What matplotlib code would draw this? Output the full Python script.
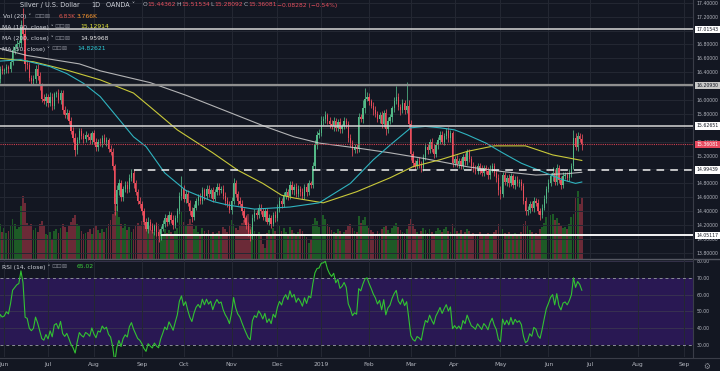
import numpy as np
import pandas as pd
import matplotlib
matplotlib.use("Agg")
import matplotlib.pyplot as plt
import matplotlib.transforms as mtransforms
from matplotlib.lines import Line2D
from matplotlib.ticker import FormatStrFormatter

# ---------------- data ----------------
start_date = "2018-05-29"
calendar_end = "2019-09-30"

# closes before the first visible bar (only for RSI warm-up)
pre_closes = [16.55, 16.62, 16.70, 16.68, 16.72, 16.60, 16.55, 16.62, 16.50, 16.45,
              16.30, 16.35, 16.28, 16.35, 16.40, 16.38, 16.45, 16.42, 16.38, 16.40]

closes = [
    16.30, 16.45, 16.42, 16.43, 16.47, 16.45, 16.55, 16.72, 16.76, 16.80,
    16.82, 17.05, 16.95, 16.52, 16.50, 16.32, 16.27, 16.30, 16.45, 16.35,
    16.20, 16.02, 15.98, 16.05, 15.95, 16.05, 15.92, 16.08, 16.10, 16.00,
    16.10, 15.85, 15.78, 15.82, 15.70, 15.55, 15.45, 15.28, 15.42, 15.55,
    15.48, 15.44, 15.50, 15.47, 15.42, 15.52, 15.40, 15.32, 15.40, 15.38,
    15.45, 15.40, 15.42, 15.30, 15.25, 15.05, 14.50, 14.70, 14.80, 14.60,
    14.72, 14.78, 14.72, 14.88, 14.95, 14.80, 14.68, 14.55, 14.50, 14.40,
    14.25, 14.15, 14.25, 14.18, 14.12, 14.18, 14.10, 14.05, 14.15, 14.22,
    14.30, 14.25, 14.35, 14.28, 14.20, 14.30, 14.40, 14.62, 14.72, 14.58,
    14.65, 14.52, 14.40, 14.32, 14.45, 14.55, 14.60, 14.55, 14.70, 14.62,
    14.72, 14.65, 14.70, 14.58, 14.68, 14.75, 14.70, 14.72, 14.62, 14.55,
    14.50, 14.42, 14.55, 14.80, 14.65, 14.55, 14.50, 14.40, 14.30, 14.20,
    14.10, 14.05, 14.30, 14.38, 14.35, 14.45, 14.40, 14.32, 14.40, 14.25,
    14.30, 14.22, 14.35, 14.30, 14.45, 14.55, 14.50, 14.62, 14.68, 14.62,
    14.78, 14.70, 14.75, 14.65, 14.72, 14.68, 14.62, 14.75, 14.68, 14.80,
    14.78, 15.05, 15.35, 15.50, 15.52, 15.70, 15.72, 15.78, 15.70, 15.65,
    15.62, 15.70, 15.60, 15.68, 15.58, 15.62, 15.70, 15.65, 15.45, 15.38,
    15.28, 15.32, 15.30, 15.75, 15.72, 15.88, 16.02, 16.05, 15.98, 15.92,
    15.85, 15.80, 15.72, 15.78, 15.65, 15.82, 15.58, 15.70, 15.75, 15.88,
    15.98, 16.05, 15.90, 15.85, 15.95, 15.85, 15.92, 15.65, 15.22, 15.10,
    15.05, 15.12, 15.08, 15.02, 15.18, 15.32, 15.28, 15.40, 15.30, 15.22,
    15.35, 15.42, 15.50, 15.40, 15.48, 15.55, 15.45, 15.52, 15.10, 15.15,
    15.08, 15.12, 15.05, 15.18, 15.12, 15.25, 15.15, 15.05, 15.02, 14.98,
    15.05, 15.00, 14.95, 15.02, 14.98, 14.92, 15.00, 15.05, 14.95, 14.88,
    14.70, 14.65, 14.92, 14.82, 14.88, 14.80, 14.90, 14.78, 14.85, 14.80,
    14.82, 14.76, 14.55, 14.40, 14.42, 14.50, 14.45, 14.55, 14.52, 14.40,
    14.35, 14.45, 14.58, 14.72, 14.80, 14.90, 14.95, 14.82, 15.02, 14.85,
    14.78, 14.90, 14.92, 14.88, 14.95, 15.05, 15.45, 15.32, 15.48, 15.44,
    15.36,
]

# upper / lower wick lengths in cents
wick_up = [
    6, 4, 5, 3, 5, 4, 6, 5, 4, 6,
    5, 10, 28, 8, 6, 5, 4, 6, 5, 7,
    5, 4, 6, 5, 4, 6, 5, 4, 3, 6,
    5, 4, 6, 5, 4, 5, 6, 8, 5, 4,
    5, 4, 6, 3, 5, 4, 5, 6, 4, 5,
    4, 6, 5, 4, 5, 6, 3, 8, 6, 5,
    4, 6, 5, 5, 6, 4, 5, 4, 6, 5,
    4, 5, 6, 4, 5, 4, 6, 5, 4, 5,
    6, 4, 5, 4, 6, 5, 4, 6, 18, 5,
    6, 5, 4, 6, 5, 4, 5, 6, 5, 4,
    6, 5, 4, 5, 4, 6, 5, 4, 5, 6,
    5, 4, 6, 8, 5, 4, 5, 6, 4, 5,
    4, 5, 6, 5, 4, 5, 6, 4, 5, 4,
    6, 5, 4, 5, 6, 5, 4, 6, 5, 4,
    6, 5, 4, 5, 6, 4, 5, 4, 6, 5,
    4, 6, 8, 5, 6, 7, 5, 6, 4, 5,
    6, 5, 4, 5, 6, 4, 5, 4, 5, 6,
    4, 5, 4, 6, 5, 12, 15, 6, 5, 4,
    5, 6, 4, 5, 6, 4, 5, 6, 5, 4,
    6, 15, 5, 4, 6, 5, 34, 8, 6, 5,
    4, 5, 6, 4, 5, 6, 5, 4, 5, 6,
    4, 5, 6, 5, 4, 5, 6, 5, 4, 5,
    6, 4, 5, 4, 6, 5, 4, 5, 6, 4,
    5, 4, 6, 5, 4, 5, 6, 4, 5, 4,
    5, 6, 4, 5, 4, 6, 5, 4, 5, 6,
    4, 5, 4, 6, 5, 4, 5, 6, 4, 5,
    4, 6, 5, 4, 6, 5, 8, 5, 6, 4,
    5, 6, 5, 4, 6, 5, 12, 8, 6, 5,
    7,
]
wick_dn = [
    5, 6, 4, 5, 4, 6, 5, 4, 6, 5,
    4, 6, 8, 10, 6, 5, 6, 4, 5, 6,
    6, 5, 4, 6, 5, 4, 6, 5, 4, 5,
    6, 5, 4, 6, 5, 4, 6, 8, 5, 4,
    4, 6, 5, 4, 6, 5, 4, 5, 6, 4,
    5, 4, 6, 5, 4, 6, 15, 10, 6, 5,
    5, 4, 6, 5, 4, 6, 5, 4, 5, 6,
    5, 4, 6, 5, 4, 6, 5, 10, 6, 4,
    5, 6, 4, 5, 6, 4, 5, 4, 6, 5,
    6, 4, 6, 8, 5, 4, 6, 5, 4, 6,
    5, 4, 6, 5, 4, 5, 6, 4, 5, 6,
    4, 5, 6, 4, 5, 6, 4, 5, 6, 5,
    6, 8, 5, 4, 6, 5, 4, 5, 6, 4,
    5, 6, 4, 5, 4, 6, 5, 4, 5, 6,
    4, 5, 6, 4, 5, 6, 4, 5, 6, 5,
    4, 5, 4, 6, 5, 4, 6, 5, 4, 5,
    4, 6, 5, 4, 5, 6, 4, 5, 6, 5,
    8, 4, 6, 5, 4, 5, 6, 4, 5, 4,
    6, 5, 4, 5, 6, 4, 8, 5, 4, 6,
    5, 4, 5, 6, 4, 5, 4, 6, 8, 6,
    5, 4, 6, 5, 4, 5, 6, 4, 5, 6,
    4, 5, 6, 4, 5, 4, 6, 5, 6, 5,
    4, 6, 5, 4, 5, 6, 4, 5, 6, 4,
    5, 6, 4, 5, 4, 6, 5, 4, 5, 6,
    6, 8, 5, 4, 6, 5, 4, 5, 6, 4,
    5, 6, 4, 6, 5, 4, 5, 6, 5, 4,
    8, 5, 4, 6, 5, 4, 6, 5, 4, 5,
    6, 5, 4, 5, 4, 6, 5, 4, 6, 5,
    8,
]

# volume in thousands
volume_k = [
    3.2, 3.8, 3.0, 3.4, 2.9, 3.1, 3.6, 4.4, 3.9, 3.3,
    3.5, 5.8, 6.9, 6.2, 4.0, 3.6, 3.9, 3.2, 3.4, 3.0,
    3.8, 4.2, 3.6, 2.8, 2.6, 3.0, 2.2, 3.1, 3.3, 2.9,
    3.4, 3.8, 3.5, 3.0, 3.6, 4.1, 4.5, 4.8, 3.9, 3.6,
    3.1, 2.7, 2.9, 3.0, 3.3, 2.8, 3.4, 3.7, 3.2, 2.9,
    3.3, 3.0, 3.4, 3.8, 4.3, 5.0, 7.2, 5.8, 4.6, 3.8,
    3.4, 3.9, 3.2, 3.5, 3.0, 3.3, 3.6, 4.0, 3.7, 4.2,
    4.6, 3.9, 3.4, 3.6, 3.2, 3.0, 3.5, 3.9, 3.1, 2.8,
    3.3, 2.9, 3.2, 3.0, 2.7, 3.1, 3.4, 4.8, 5.2, 4.1,
    3.6, 3.9, 4.4, 3.9, 3.3, 3.6, 3.0, 2.8, 3.4, 3.1,
    2.9, 3.2, 2.7, 3.0, 2.6, 2.9, 3.1, 2.8, 3.5, 3.3,
    3.0, 3.6, 4.3, 3.8, 3.4, 3.2, 3.7, 4.0, 4.3, 4.6,
    5.0, 3.9, 3.5, 3.1, 2.8, 3.0, 2.5, 1.6, 1.2, 2.9,
    3.2, 2.8, 3.4, 3.1, 3.3, 3.6, 3.1, 3.4, 3.0, 2.8,
    3.5, 3.2, 2.9, 2.7, 3.0, 3.3, 3.1, 2.6, 2.4, 1.8,
    2.2, 3.9, 4.5, 4.2, 3.5, 2.6, 4.8, 4.4, 3.8, 3.5,
    3.2, 3.0, 2.9, 3.3, 3.1, 2.8, 3.0, 3.2, 3.6, 3.8,
    3.4, 3.1, 3.0, 4.7, 4.0, 4.3, 4.6, 3.7, 3.4, 3.2,
    3.0, 2.8, 3.1, 2.9, 3.3, 3.5, 3.6, 3.2, 2.9, 3.4,
    3.7, 4.0, 3.5, 3.2, 3.0, 2.9, 3.3, 3.8, 4.4, 3.9,
    3.3, 3.0, 2.8, 3.1, 3.4, 3.2, 2.9, 3.3, 3.0, 2.8,
    3.1, 3.4, 3.2, 3.0, 3.3, 3.5, 3.1, 3.0, 3.9, 3.4,
    3.1, 2.9, 3.2, 2.8, 3.0, 3.3, 3.1, 2.7, 2.9, 2.6,
    2.8, 3.0, 2.7, 2.5, 2.8, 2.9, 2.6, 2.8, 3.0, 3.2,
    3.8, 3.5, 3.3, 2.9, 2.7, 3.0, 2.8, 2.6, 2.9, 2.7,
    2.8, 3.0, 3.9, 4.2, 3.6, 3.2, 3.0, 2.8, 2.9, 2.6,
    3.3, 3.5, 4.0, 4.6, 4.2, 4.8, 5.0, 4.3, 4.5, 4.0,
    3.6, 3.4, 3.5, 3.3, 3.9, 4.6, 5.0, 6.8, 7.5, 6.0,
    6.83,
]

# moving averages sampled at bar indices
ma200_idx = [1, 14, 39, 49, 73, 90, 112, 128, 142, 154, 172, 188, 204, 225, 242, 258, 273, 280]
ma200_val = [16.74, 16.64, 16.52, 16.42, 16.25, 16.07, 15.81, 15.62, 15.47, 15.38, 15.31,
             15.24, 15.16, 15.04, 14.97, 14.92, 14.94, 14.96]
ma100_idx = [1, 17, 33, 49, 65, 73, 86, 103, 115, 127, 136, 142, 156, 172, 188, 199, 212,
             225, 238, 253, 266, 280]
ma100_val = [16.60, 16.55, 16.43, 16.29, 16.10, 15.90, 15.57, 15.24, 14.99, 14.80, 14.63,
             14.59, 14.52, 14.68, 14.88, 15.04, 15.14, 15.26, 15.34, 15.34, 15.21, 15.13]
ma50_idx = [1, 11, 25, 33, 41, 49, 57, 65, 71, 80, 90, 103, 110, 123, 140, 154, 169, 180,
            188, 198, 205, 212, 219, 225, 234, 242, 251, 261, 271, 277, 280]
ma50_val = [16.56, 16.58, 16.48, 16.38, 16.24, 16.05, 15.76, 15.47, 15.33, 14.95, 14.70,
            14.54, 14.49, 14.43, 14.46, 14.52, 14.80, 15.14, 15.35, 15.60, 15.62, 15.60,
            15.57, 15.50, 15.38, 15.24, 15.09, 14.97, 14.85, 14.80, 14.82]

# horizontal levels (value, start bar index or None for full width)
level_vals = [17.01543, 16.20930, 15.62651, 14.99439, 14.05117]
level_start = [None, None, None, 65, 78]
last_price = 15.36081
price_ticks = [17.4, 17.2, 16.8, 16.6, 16.4, 16.0, 15.8, 15.4, 15.2, 14.8, 14.6, 14.4,
               14.2, 14.0, 13.8]
rsi_ticks = [30, 40, 50, 60, 70, 80]

ohlc_names = ["O", "H", "L", "C"]
ohlc_texts = ["15.44362", "15.51534", "15.28092", "15.36081"]
change_text = "\u22120.08282 (\u22120.54%)"
vol_texts = ["6.83K", "3.766K"]
ma_texts = ["15.12914", "14.95968", "14.82621"]
rsi_text = "65.02"

# ---------------- styling ----------------
BG = "#131722"
GRID = "#242833"
TXT = "#b2b5be"
UP, DN = "#53b987", "#eb4d5c"
VUP, VDN = "#1d5a26", "#6b2a37"
YEL, WHT, CYA = "#c9c93a", "#cfcfcf", "#2fb3bf"
PURPLE = "#291853"
RSI_C = "#32c232"

W, H = 720, 371
plt.rcParams["font.family"] = ["DejaVu Sans"]

n = len(closes)
assert len(wick_up) == n and len(wick_dn) == n and len(volume_k) == n
c = np.array(closes)
o = np.r_[pre_closes[-1], c[:-1]]
hi = np.maximum(o, c) + np.array(wick_up) / 100.0
lo = np.minimum(o, c) - np.array(wick_dn) / 100.0
x = np.arange(n)
up = c >= o

dates = pd.bdate_range(start_date, calendar_end)
per = dates.to_period("M")
tick_pos = [i for i in range(1, len(dates)) if per[i] != per[i - 1]]
tick_lab = [str(dates[i].year) if dates[i].month == 1 else dates[i].strftime("%b") for i in tick_pos]

# Wilder RSI(14)
allc = np.r_[pre_closes, c]
dlt = np.diff(allc)
gains = np.clip(dlt, 0, None)
losses = np.clip(-dlt, 0, None)
P = 14
ag = np.full(len(dlt), np.nan)
al = np.full(len(dlt), np.nan)
ag[P - 1] = gains[:P].mean()
al[P - 1] = losses[:P].mean()
for i in range(P, len(dlt)):
    ag[i] = (ag[i - 1] * (P - 1) + gains[i]) / P
    al[i] = (al[i - 1] * (P - 1) + losses[i]) / P
rsi_all = 100 - 100 / (1 + ag / al)
rsi = rsi_all[-n:]

XL = (0.96, 333.33)
YL = (13.712, 17.439)

fig = plt.figure(figsize=(W / 100, H / 100), dpi=100, facecolor=BG)
axp = fig.add_axes([0, 1 - 259 / H, 693 / W, 259 / H])
axv = axp.twinx()
axr = fig.add_axes([0, 14 / H, 693 / W, 98 / H], facecolor=BG)
axp.set_zorder(2)
axv.set_zorder(1)
axp.patch.set_visible(False)

# volume
axv.bar(x, volume_k, width=0.85, color=np.where(up, VUP, VDN), linewidth=0)
axv.set_ylim(0, 28.5)
axv.set_axis_off()

# grid
for a in (axp, axr):
    for s in a.spines.values():
        s.set_visible(False)
    a.set_xlim(*XL)
    a.set_xticks(tick_pos)
    a.grid(True, axis="x", color=GRID, lw=0.7)
axp.set_ylim(*YL)
for yv in np.arange(13.8, 17.41, 0.2):
    axp.axhline(yv, color=GRID, lw=0.7, zorder=0)
axp.set_yticks(price_ticks)
axp.yaxis.tick_right()
axp.yaxis.set_major_formatter(FormatStrFormatter("%.5f"))
axp.tick_params(axis="y", length=0, pad=2.5, labelsize=3.3, labelcolor=TXT)
axp.tick_params(axis="x", length=0, labelbottom=False)

# candles
axp.vlines(x, lo, hi, colors=np.where(up, UP, DN), lw=0.55, zorder=3)
axp.bar(x, np.maximum(np.abs(c - o), 0.006), bottom=np.minimum(o, c), width=0.62,
        color=np.where(up, UP, DN), linewidth=0, zorder=4)

# moving averages
axp.plot(ma200_idx, ma200_val, color=WHT, lw=0.8, alpha=0.85, zorder=5)
axp.plot(ma100_idx, ma100_val, color=YEL, lw=0.8, zorder=5)
axp.plot(ma50_idx, ma50_val, color=CYA, lw=0.8, zorder=5)

# levels
lvl_styles = [dict(color="#d6d6d6", lw=1.1, ls="-"),
              dict(color="#8f8f8f", lw=1.6, ls="-"),
              dict(color="#d6d6d6", lw=1.1, ls="-"),
              dict(color="#f0f0f0", lw=1.1, ls=(0, (5, 4))),
              dict(color="#f4f4f4", lw=1.4, ls="-")]
box_fc = ["#ffffff", "#c8c8c8", "#ffffff", "#ffffff", "#ffffff"]
trans = mtransforms.blended_transform_factory(axp.transAxes, axp.transData)
for v, s0, st, fc in zip(level_vals, level_start, lvl_styles, box_fc):
    x0 = XL[0] if s0 is None else s0
    axp.hlines(v, x0, XL[1], zorder=6, **st)
    axp.text(1.005, v, f"{v:.5f}", transform=trans, ha="left", va="center", fontsize=3.3,
             color="#131722", clip_on=False, zorder=10,
             bbox=dict(boxstyle="square,pad=0.3", fc=fc, ec="none"))
axp.axhline(last_price, color="#d0404f", lw=0.8, ls=(0, (1, 1)), zorder=6)
axp.text(1.005, last_price, f"{last_price:.5f}", transform=trans, ha="left", va="center",
         fontsize=3.3, color="white", clip_on=False, zorder=10,
         bbox=dict(boxstyle="square,pad=0.3", fc="#e84a5f", ec="none"))

# RSI pane
axr.axhspan(30, 70, color=PURPLE, lw=0, zorder=0)
axr.set_ylim(23.1, 81.0)
axr.set_yticks(rsi_ticks)
axr.yaxis.tick_right()
axr.yaxis.set_major_formatter(FormatStrFormatter("%.2f"))
for yv in (40, 50, 60, 80):
    axr.axhline(yv, color="#3a3550", lw=0.6, zorder=1)
for yv in (30, 70):
    axr.axhline(yv, color="#8a8d96", lw=0.7, ls=(0, (3, 3)), zorder=2)
axr.plot(x, rsi, color=RSI_C, lw=0.8, zorder=3)
axr.tick_params(axis="y", length=0, pad=2.5, labelsize=3.3, labelcolor=TXT)
axr.tick_params(axis="x", length=0, pad=3.5, labelsize=4.3, labelcolor=TXT)
axr.set_xticklabels(tick_lab)

# separators
fig.add_artist(Line2D([0, 1], [1 - 259 / H] * 2, transform=fig.transFigure, color="#555862", lw=1.0))
fig.add_artist(Line2D([0, 1], [1 - 358 / H] * 2, transform=fig.transFigure, color="#3a3d48", lw=0.8))
fig.add_artist(Line2D([693 / W] * 2, [1 - 358 / H, 1], transform=fig.transFigure, color="#3a3d48", lw=0.8))

# legend texts
def ft(px, py, s, **kw):
    kw.setdefault("fontsize", 4.3)
    fig.text(px / W, 1 - py / H, s, ha="left", va="center", zorder=20, **kw)

ICON = "\u22a1\u22a1\u22a0"
ft(20, 5, "Silver / U.S. Dollar", color="#d1d4dc", fontsize=4.7)
ft(91, 5, "1D", color="#d1d4dc", fontsize=4.7)
ft(106, 5, "OANDA \u02c5", color="#d1d4dc", fontsize=4.7)
for i, (nm, tx) in enumerate(zip(ohlc_names, ohlc_texts)):
    ft(143 + 33.5 * i, 5, nm, color=TXT)
    ft(147.5 + 33.5 * i, 5, tx, color="#e8505f")
ft(277, 5, change_text, color="#e8505f")

ft(3, 16, "Vol (20) \u02c5", color="#d1d4dc")
ft(34, 16, ICON, color="#787b86", fontsize=4.6)
ft(59, 16, vol_texts[0], color="#e2584f")
ft(77, 16, vol_texts[1], color="#ff9a2e")

ft(2, 27, "MA (100, close) \u02c5", color="#d1d4dc")
ft(54, 27, ICON, color="#787b86", fontsize=4.6)
ft(80, 27, ma_texts[0], color="#e8e83a")
ft(2, 38, "MA (200, close) \u02c5", color="#d1d4dc")
ft(54, 38, ICON, color="#787b86", fontsize=4.6)
ft(80, 38, ma_texts[1], color="#e6e6e6")
ft(2, 49, "MA (50, close) \u02c5", color="#d1d4dc")
ft(51, 49, ICON, color="#787b86", fontsize=4.6)
ft(77, 49, ma_texts[2], color="#2fd0dc")

ft(2, 267, "RSI (14, close) \u02c5", color="#d1d4dc")
ft(51, 267, ICON, color="#787b86", fontsize=4.6)
ft(77, 267, rsi_text, color="#3ccf3c")

ft(703, 366, "\u2699", color="#8a8d96", fontsize=5.5)

fig.savefig("out.png", dpi=100, facecolor=BG)
